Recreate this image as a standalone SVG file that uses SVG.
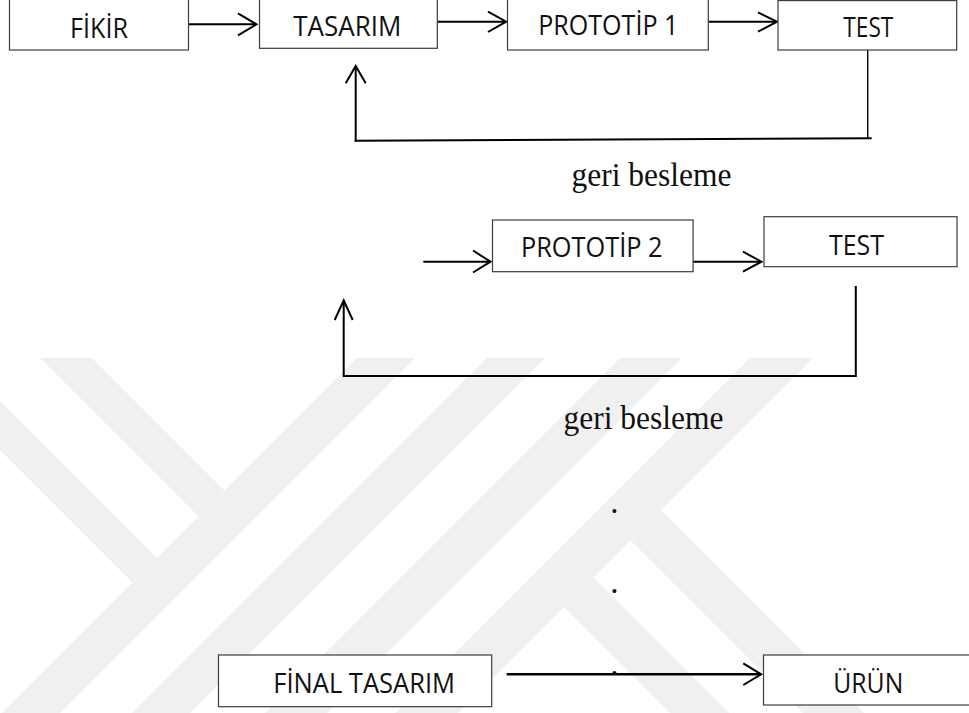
<svg xmlns="http://www.w3.org/2000/svg" width="969" height="713" viewBox="0 0 969 713">
<style>
.bg{fill:#ffffff}
.wm{fill:#f0f0f0}
.box{fill:#ffffff;stroke:#3c3c3c;stroke-width:1.2}
.lbl{font-family:"Open Sans","Noto Sans","Liberation Sans",sans-serif;font-size:28px;fill:#111111}
.fb{font-family:"Liberation Serif","Times New Roman",serif;font-size:33px;fill:#111111}
.ln{fill:none;stroke:#000000;stroke-width:2}
.hd{fill:none;stroke:#000000;stroke-width:2;stroke-linejoin:miter;stroke-linecap:butt}
</style>
<rect class="bg" x="0" y="0" width="969" height="713"/>
<g id="watermark">
<polygon class="wm" points="40,358 92,358 224.5,490.5 198.5,516.5"/>
<polygon class="wm" points="0,401 0,450 132.5,582.5 157,558"/>
<polygon class="wm" points="357,358 415,358 60,713 2,713"/>
<polygon class="wm" points="487,358 545,358 190,713 132,713"/>
<polygon class="wm" points="620,358 682,358 327,713 265,713"/>
<polygon class="wm" points="750,358 813,358 458,713 395,713"/>
<polygon class="wm" points="661,510 864,713 803,713 630.5,540.5"/>
<polygon class="wm" points="593.5,577.5 729,713 670,713 564,607"/>
</g>
<g id="connectors">
<line class="ln" x1="188" y1="24.3" x2="256" y2="24.3"/>
<polyline class="hd" points="238,13.3 256.5,24.3 238,35.3"/>
<line class="ln" x1="437.3" y1="21.7" x2="506" y2="21.7"/>
<polyline class="hd" points="488,11.7 506.2,21.7 488,32"/>
<line class="ln" x1="708.3" y1="21.7" x2="777" y2="21.7"/>
<polyline class="hd" points="758,12.3 777,21.7 758,31.7"/>
<line x1="867.7" y1="50" x2="867.7" y2="139" stroke="#000" stroke-width="1.4"/>
<line class="ln" x1="871.7" y1="138.3" x2="354.7" y2="140.7"/>
<line class="ln" x1="355.7" y1="141.7" x2="355.7" y2="66.5"/>
<polyline class="hd" points="345.7,83.3 355.7,66 365.7,83.3"/>
<line class="ln" x1="423.3" y1="261.7" x2="491" y2="261.7"/>
<polyline class="hd" points="473,250.5 490.5,261.7 473,272.5"/>
<line class="ln" x1="693.1" y1="261.7" x2="761" y2="261.7"/>
<polyline class="hd" points="743,251.7 761.5,261.7 743,271.7"/>
<polyline class="ln" points="855.8,286 855.8,376 343.7,376 343.7,300.5"/>
<polyline class="hd" points="334.7,320 343.7,300.5 352.7,320"/>
<line x1="506.7" y1="674.3" x2="761" y2="674.3" stroke="#000" stroke-width="2.5"/>
<polyline class="hd" points="743.3,663.3 761.2,674.3 743.3,685"/>
</g>
<g id="node-fikir">
<rect class="box" x="9.5" y="-1" width="179" height="51"/>
<text class="lbl" x="70" y="38.3" textLength="58" lengthAdjust="spacingAndGlyphs">FİKİR</text>
</g>
<g id="node-tasarim">
<rect class="box" x="259.5" y="-1" width="177.8" height="49.3"/>
<text class="lbl" x="293.3" y="36" textLength="108" lengthAdjust="spacingAndGlyphs">TASARIM</text>
</g>
<g id="node-prototip1">
<rect class="box" x="507.5" y="-1" width="200.8" height="51"/>
<text class="lbl" x="538.3" y="35.3" textLength="140" lengthAdjust="spacingAndGlyphs">PROTOTİP 1</text>
</g>
<g id="node-test1">
<rect class="box" x="778" y="0.6" width="178.7" height="49.4"/>
<text class="lbl" x="843.3" y="37" textLength="50" lengthAdjust="spacingAndGlyphs">TEST</text>
</g>
<g id="label-feedback1">
<text class="fb" x="571.5" y="186" textLength="160" lengthAdjust="spacingAndGlyphs">geri besleme</text>
</g>
<g id="node-prototip2">
<rect class="box" x="492.5" y="220" width="200.6" height="51.7"/>
<text class="lbl" x="521" y="256.5" textLength="141.5" lengthAdjust="spacingAndGlyphs">PROTOTİP 2</text>
</g>
<g id="node-test2">
<rect class="box" x="764" y="216.7" width="193" height="50"/>
<text class="lbl" x="829" y="255" textLength="55" lengthAdjust="spacingAndGlyphs">TEST</text>
</g>
<g id="label-feedback2">
<text class="fb" x="563.5" y="429" textLength="160" lengthAdjust="spacingAndGlyphs">geri besleme</text>
</g>
<g id="dots">
<text class="fb" x="610.3" y="512.6">.</text>
<text class="fb" x="610.3" y="593.3">.</text>
<text class="fb" x="610.3" y="675">.</text>
</g>
<g id="node-final">
<rect class="box" x="218.5" y="655" width="273.2" height="51.7"/>
<text class="lbl" x="273.3" y="693.3" textLength="181.7" lengthAdjust="spacingAndGlyphs">FİNAL TASARIM</text>
</g>
<g id="node-urun">
<rect class="box" x="763.5" y="655" width="220" height="50"/>
<text class="lbl" x="833.3" y="692.7" textLength="70" lengthAdjust="spacingAndGlyphs">ÜRÜN</text>
</g>
</svg>
